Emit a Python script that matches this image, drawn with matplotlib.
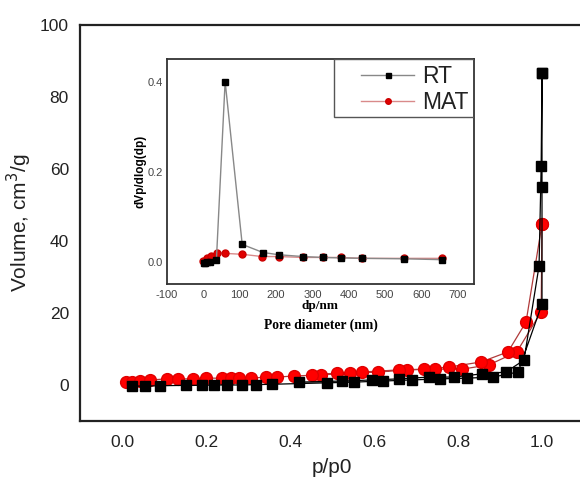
import numpy as np
import matplotlib
matplotlib.use('Agg')
import matplotlib.pyplot as plt
from matplotlib.patches import Rectangle

plt.rcParams['font.family'] = ['Liberation Sans', 'DejaVu Sans']
plt.rcParams['axes.unicode_minus'] = False

# isotherm, RT (adsorption then desorption)
rt_ads_x = [0.024, 0.055, 0.09, 0.152, 0.19, 0.219, 0.25, 0.286, 0.319, 0.357,
            0.488, 0.552, 0.621, 0.690, 0.757, 0.821, 0.883, 0.943, 1.0, 1.0, 1.0]
rt_ads_y = [-0.3, -0.3, -0.2, -0.1, -0.1, 0.0, 0.0, 0.0, 0.1, 0.2,
            0.6, 0.8, 1.1, 1.4, 1.7, 1.9, 2.2, 3.6, 22.5, 55.0, 86.7]
rt_des_x = [1.0, 0.998, 0.993, 0.957, 0.914, 0.857, 0.790, 0.731, 0.660, 0.595, 0.524, 0.421]
rt_des_y = [86.7, 60.8, 33.1, 6.9, 3.6, 3.1, 2.2, 2.2, 1.7, 1.4, 1.1, 0.8]

# isotherm, MAT
mat_ads_x = [0.010, 0.024, 0.043, 0.067, 0.107, 0.133, 0.169, 0.200, 0.238, 0.260, 0.279,
             0.307, 0.343, 0.369, 0.410, 0.474, 0.543, 0.610, 0.679, 0.745, 0.810, 0.874,
             0.940, 0.998, 1.0]
mat_ads_y = [0.8, 0.8, 1.2, 1.4, 1.7, 1.7, 1.7, 1.9, 1.9, 1.9, 1.9,
             1.9, 2.2, 2.2, 2.5, 2.8, 3.3, 3.6, 4.2, 4.4, 4.4, 5.6,
             9.2, 20.3, 44.7]
mat_des_x = [1.0, 0.962, 0.919, 0.855, 0.779, 0.719, 0.660, 0.571, 0.512, 0.452]
mat_des_y = [44.7, 17.5, 9.2, 6.4, 5.0, 4.4, 4.2, 3.6, 3.3, 2.8]

# pore size distribution (inset)
rt_dp = [2, 5, 10, 19, 36, 60, 107, 164, 208, 274, 329, 378, 438, 553, 658]
rt_dv = [-0.004, -0.003, -0.002, -0.001, 0.004, 0.40, 0.038, 0.02, 0.015, 0.011,
         0.009, 0.008, 0.007, 0.006, 0.004]
mat_dp = [0, 11, 22, 38, 60, 107, 162, 208, 274, 329, 378, 438, 553, 658]
mat_dv = [0.002, 0.007, 0.013, 0.02, 0.018, 0.016, 0.011, 0.011, 0.009, 0.009,
          0.009, 0.007, 0.007, 0.007]

fig = plt.figure(figsize=(5.8, 4.84), dpi=100)
ax = fig.add_axes([80/580, 1-421/484, 504/580, 396/484])

rt_x = rt_ads_x + rt_des_x
rt_y = rt_ads_y + rt_des_y
mat_x = mat_ads_x + mat_des_x
mat_y = mat_ads_y + mat_des_y
ax.plot(mat_x, mat_y, color='#b03a3a', lw=0.9, marker='o', ms=8.5,
        mfc='#ff0000', mec='#e00000', zorder=2)
ax.plot(rt_x, rt_y, color='black', lw=0.9, marker='s', ms=7.5,
        mfc='black', mec='black', zorder=3)

ax.set_xlim(-0.1, 1.1)
ax.set_ylim(-10, 100)
ax.set_xticks([0.0, 0.2, 0.4, 0.6, 0.8, 1.0])
ax.set_xticklabels(['0.0', '0.2', '0.4', '0.6', '0.8', '1.0'])
ax.set_yticks([0, 20, 40, 60, 80, 100])
ax.tick_params(length=0, labelsize=12.5, colors='#222222')
ax.tick_params(axis='x', pad=10)
ax.tick_params(axis='y', pad=8)
for s in ax.spines.values():
    s.set_linewidth(1.6)
    s.set_color('#222222')
ax.spines['right'].set_visible(False)
ax.set_xlabel('p/p0', fontsize=15, color='#222222', labelpad=6)
ax.set_ylabel('Volume, cm$^3$/g', fontsize=15, color='#222222', labelpad=4)

# inset
ins = fig.add_axes([167/580, 1-284/484, 307/580, 225/484])
ins.plot(rt_dp, rt_dv, color='#888888', lw=1.0, marker='s', ms=4.5,
         mfc='black', mec='black', label='RT', zorder=3)
ins.plot(mat_dp, mat_dv, color='#d98a8a', lw=1.0, marker='o', ms=5,
         mfc='#e00000', mec='#cc0000', label='MAT', zorder=2)
ins.set_xlim(-100, 745)
ins.set_ylim(-0.05, 0.45)
ins.set_xticks([-100, 0, 100, 200, 300, 400, 500, 600, 700])
ins.set_yticks([0.0, 0.2, 0.4])
ins.set_yticklabels(['0.0', '0.2', '0.4'])
ins.tick_params(length=0, labelsize=8, colors='#444444')
ins.tick_params(axis='x', pad=4)
ins.tick_params(axis='y', pad=3)
for s in ins.spines.values():
    s.set_linewidth(1.3)
    s.set_color('#333333')
ins.set_ylabel('dVp/dlog(dp)', fontsize=8.5, fontweight='bold', labelpad=1)
ins.set_xlabel('dp/nm', fontsize=9.5, fontweight='bold', family='Liberation Serif', labelpad=0)
ins.text(0.5, -0.155, 'Pore diameter (nm)', transform=ins.transAxes, ha='center', va='top',
         fontsize=9.8, fontweight='bold', family='Liberation Serif')

ins.add_patch(Rectangle((0.544, 0.742), 0.456, 0.258, transform=ins.transAxes,
                        fill=False, edgecolor='#555555', lw=1.0, zorder=5))
leg = ins.legend(loc='upper right', bbox_to_anchor=(1.0, 1.0), fontsize=16.5, frameon=False,
                 borderaxespad=0, handlelength=2.3, handletextpad=0.35,
                 borderpad=0.25, labelspacing=0.15, markerscale=0.8)
for t in leg.get_texts():
    t.set_color('#222222')

fig.savefig('out.png', dpi=100)
